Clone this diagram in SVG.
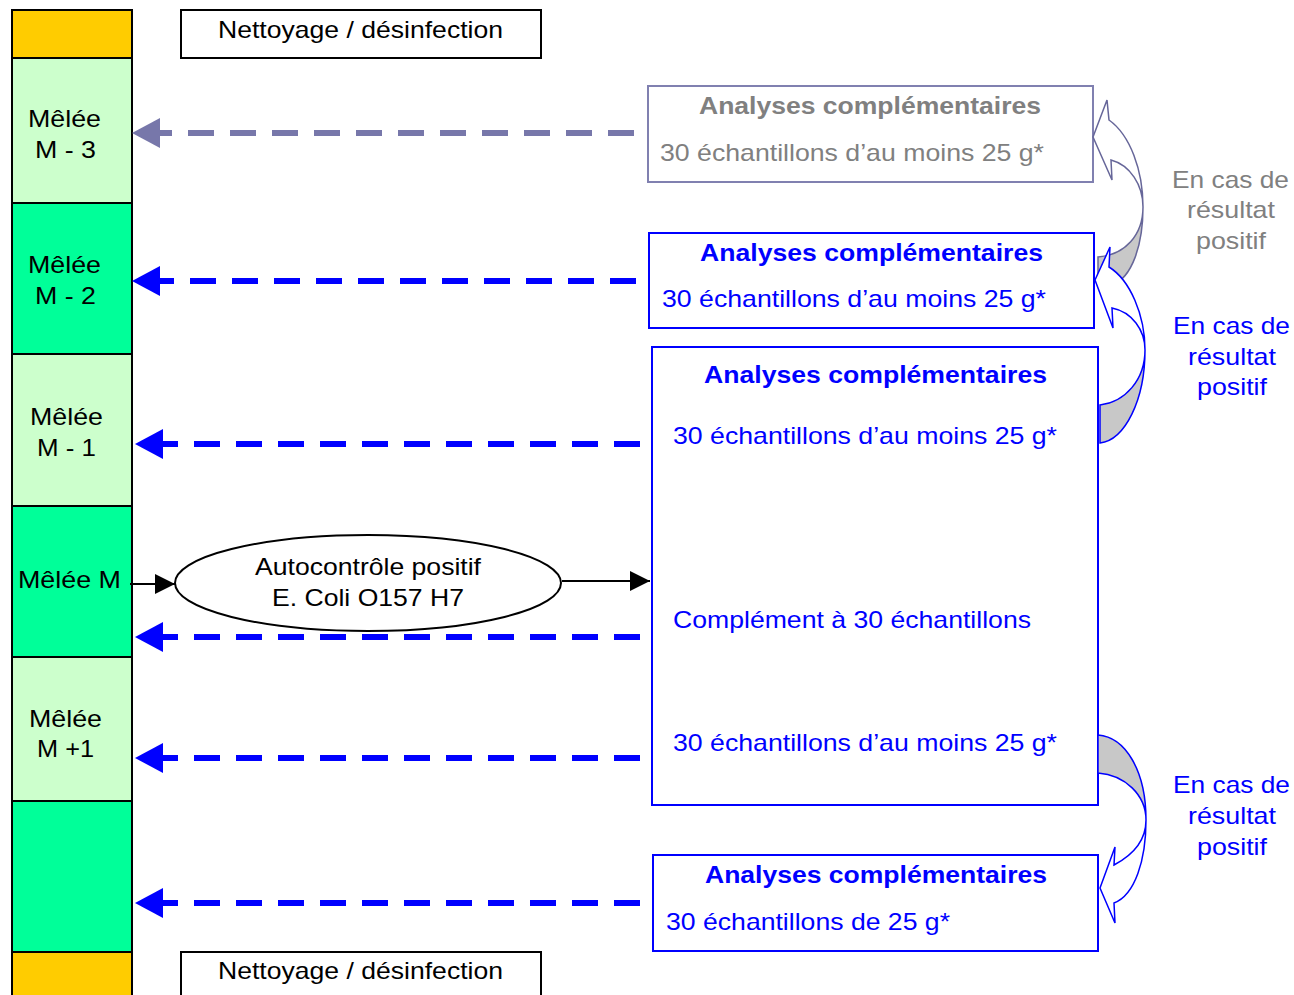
<svg xmlns="http://www.w3.org/2000/svg" width="1294" height="995" viewBox="0 0 1294 995">
<style>
text{font-family:"Liberation Sans",Arial,sans-serif;font-size:24px}
.k{fill:#000}
.g{fill:#808080}
.b{fill:#0000FF}
.bold{font-weight:bold}
.seg{stroke:#000;stroke-width:2}
.lg{fill:#CCFFCC}
.dg{fill:#00FF99}
.or{fill:#FFCC00}
.box{fill:#fff;stroke-width:2}
.dashB{stroke:#0000FF;stroke-width:6;stroke-dasharray:26 16;fill:none}
.dashG{stroke:#7777AA;stroke-width:6;stroke-dasharray:26 16;fill:none}
.headB{fill:#0000FF}
.headG{fill:#7777AA}
.cB{stroke:#0000FF;stroke-width:1.5}
.cG{stroke:#666699;stroke-width:1.5}
.shade{fill:#C8C8C8}
</style>
<defs>
<marker id="ah" markerWidth="20" markerHeight="20" refX="10" refY="5" orient="auto" markerUnits="userSpaceOnUse" viewBox="0 0 10 10">
<path d="M0,0 L10,5 L0,10 Z" fill="#000"/>
</marker>
</defs>

<g id="column">
<rect id="top-orange" class="seg or" x="12" y="10" width="120" height="48"/>
<g id="m-3"><rect class="seg lg" x="12" y="58" width="120" height="145"/>
<text class="k" x="28" y="127" textLength="73" lengthAdjust="spacingAndGlyphs">Mêlée</text>
<text class="k" x="35" y="158" textLength="61" lengthAdjust="spacingAndGlyphs">M - 3</text></g>
<g id="m-2"><rect class="seg dg" x="12" y="203" width="120" height="151"/>
<text class="k" x="28" y="273" textLength="73" lengthAdjust="spacingAndGlyphs">Mêlée</text>
<text class="k" x="35" y="304" textLength="61" lengthAdjust="spacingAndGlyphs">M - 2</text></g>
<g id="m-1"><rect class="seg lg" x="12" y="354" width="120" height="152"/>
<text class="k" x="30" y="425" textLength="73" lengthAdjust="spacingAndGlyphs">Mêlée</text>
<text class="k" x="37" y="456" textLength="59" lengthAdjust="spacingAndGlyphs">M - 1</text></g>
<g id="m"><rect class="seg dg" x="12" y="506" width="120" height="151"/>
<text class="k" x="18" y="588" textLength="103" lengthAdjust="spacingAndGlyphs">Mêlée M</text></g>
<g id="m+1"><rect class="seg lg" x="12" y="657" width="120" height="144"/>
<text class="k" x="29" y="727" textLength="73" lengthAdjust="spacingAndGlyphs">Mêlée</text>
<text class="k" x="37" y="757" textLength="57" lengthAdjust="spacingAndGlyphs">M +1</text></g>
<rect id="m+2" class="seg dg" x="12" y="801" width="120" height="151"/>
<rect id="bottom-orange" class="seg or" x="12" y="952" width="120" height="50"/>
</g>

<g id="nettoyage-top"><rect class="box" stroke="#000" x="181" y="10" width="360" height="48"/>
<text class="k" x="218" y="38" textLength="285" lengthAdjust="spacingAndGlyphs">Nettoyage / désinfection</text></g>
<g id="nettoyage-bottom"><rect class="box" stroke="#000" x="181" y="952" width="360" height="50"/>
<text class="k" x="218" y="979" textLength="285" lengthAdjust="spacingAndGlyphs">Nettoyage / désinfection</text></g>

<g id="box-m3"><rect class="box" stroke="#8080B0" x="648" y="86" width="445" height="96"/>
<text class="g bold" x="699" y="114" textLength="342" lengthAdjust="spacingAndGlyphs">Analyses complémentaires</text>
<text class="g" x="660" y="161" textLength="384" lengthAdjust="spacingAndGlyphs">30 échantillons d’au moins 25 g*</text></g>

<g id="box-m2"><rect class="box" stroke="#0000FF" x="649" y="233" width="445" height="95"/>
<text class="b bold" x="700" y="261" textLength="343" lengthAdjust="spacingAndGlyphs">Analyses complémentaires</text>
<text class="b" x="662" y="307" textLength="384" lengthAdjust="spacingAndGlyphs">30 échantillons d’au moins 25 g*</text></g>

<g id="box-main"><rect class="box" stroke="#0000FF" x="652" y="347" width="446" height="458"/>
<text class="b bold" x="704" y="383" textLength="343" lengthAdjust="spacingAndGlyphs">Analyses complémentaires</text>
<text class="b" x="673" y="444" textLength="384" lengthAdjust="spacingAndGlyphs">30 échantillons d’au moins 25 g*</text>
<text class="b" x="673" y="628" textLength="358" lengthAdjust="spacingAndGlyphs">Complément à 30 échantillons</text>
<text class="b" x="673" y="751" textLength="384" lengthAdjust="spacingAndGlyphs">30 échantillons d’au moins 25 g*</text></g>

<g id="box-m2b"><rect class="box" stroke="#0000FF" x="653" y="855" width="445" height="96"/>
<text class="b bold" x="705" y="883" textLength="342" lengthAdjust="spacingAndGlyphs">Analyses complémentaires</text>
<text class="b" x="666" y="930" textLength="284" lengthAdjust="spacingAndGlyphs">30 échantillons de 25 g*</text></g>

<g id="autocontrole"><ellipse cx="368" cy="583" rx="193" ry="48" fill="#fff" stroke="#000" stroke-width="2"/>
<text class="k" x="255" y="575" textLength="226" lengthAdjust="spacingAndGlyphs">Autocontrôle positif</text>
<text class="k" x="272" y="606" textLength="192" lengthAdjust="spacingAndGlyphs">E. Coli O157 H7</text></g>

<g id="label-gray">
<text class="g" x="1172" y="188" textLength="117" lengthAdjust="spacingAndGlyphs">En cas de</text>
<text class="g" x="1187" y="218" textLength="88" lengthAdjust="spacingAndGlyphs">résultat</text>
<text class="g" x="1196" y="249" textLength="70" lengthAdjust="spacingAndGlyphs">positif</text></g>
<g id="label-blue1">
<text class="b" x="1173" y="334" textLength="117" lengthAdjust="spacingAndGlyphs">En cas de</text>
<text class="b" x="1188" y="365" textLength="88" lengthAdjust="spacingAndGlyphs">résultat</text>
<text class="b" x="1197" y="395" textLength="70" lengthAdjust="spacingAndGlyphs">positif</text></g>
<g id="label-blue2">
<text class="b" x="1173" y="793" textLength="117" lengthAdjust="spacingAndGlyphs">En cas de</text>
<text class="b" x="1188" y="824" textLength="88" lengthAdjust="spacingAndGlyphs">résultat</text>
<text class="b" x="1197" y="855" textLength="70" lengthAdjust="spacingAndGlyphs">positif</text></g>

<g id="connectors">
<line class="dashG" x1="634" y1="133" x2="160" y2="133"/>
<path class="headG" d="M132,133 L160,118 L160,148 Z"/>
<line class="dashB" x1="636" y1="281" x2="160" y2="281"/>
<path class="headB" d="M132,281 L160,266 L160,296 Z"/>
<line class="dashB" x1="640" y1="444" x2="163" y2="444"/>
<path class="headB" d="M135,444 L163,429 L163,459 Z"/>
<line class="dashB" x1="640" y1="637" x2="163" y2="637"/>
<path class="headB" d="M135,637 L163,622 L163,652 Z"/>
<line class="dashB" x1="640" y1="758" x2="163" y2="758"/>
<path class="headB" d="M135,758 L163,743 L163,773 Z"/>
<line class="dashB" x1="640" y1="903" x2="163" y2="903"/>
<path class="headB" d="M135,903 L163,888 L163,918 Z"/>
<line x1="130" y1="584" x2="175" y2="584" stroke="#000" stroke-width="2" marker-end="url(#ah)"/>
<line x1="562" y1="581" x2="650" y2="581" stroke="#000" stroke-width="2" marker-end="url(#ah)"/>

<g id="curve-gray">
<path class="shade cG" d="M1143,207 C1143,245 1132,278 1112,285 L1098,285 L1098,257 C1125,255 1143,235 1143,207 Z"/>
<path class="cG" fill="#fff" d="M1093,137 L1107,100 L1109,120 C1130,135 1143,170 1143,207 C1143,185 1130,165 1111,160 L1112,180 Z"/>
</g>
<g id="curve-blue1">
<path class="shade cB" d="M1145,350 C1145,400 1125,440 1100,443 L1100,405 C1125,402 1145,380 1145,350 Z"/>
<path class="cB" fill="#fff" d="M1095,280 L1110,247 L1109,267 C1130,280 1145,315 1145,350 C1145,330 1132,312 1112,308 L1113,328 Z"/>
</g>
<g id="curve-blue2">
<path class="shade cB" d="M1098,735 C1125,737 1146,770 1146,820 C1146,795 1125,775 1098,773 Z"/>
<path class="cB" fill="#fff" d="M1100,888 L1115,847 L1114,865 C1133,855 1146,840 1146,820 C1146,860 1135,895 1114,903 L1115,923 Z"/>
</g>
</g>
</svg>
